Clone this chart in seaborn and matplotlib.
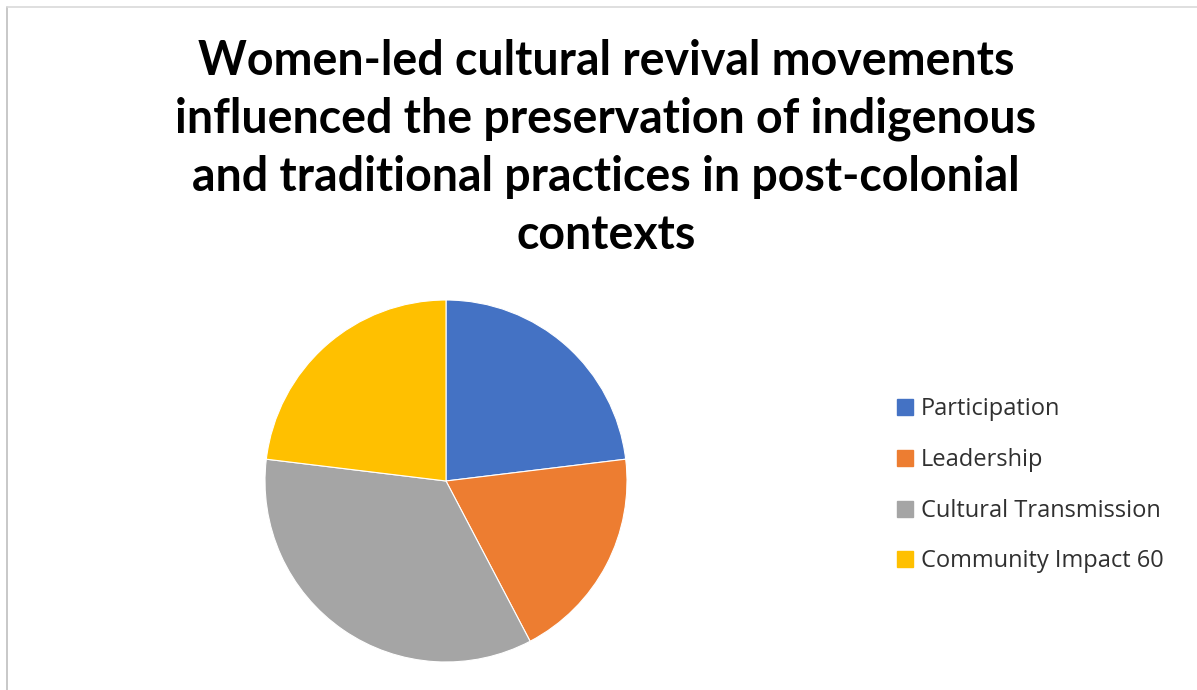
import matplotlib
matplotlib.use("Agg")
import matplotlib.pyplot as plt
import seaborn as sns
from matplotlib.lines import Line2D

categories = ['Participation', 'Leadership', 'Cultural Transmission', 'Community Impact 60']
values = [60, 50, 90, 60]
colors = ['#4472C4', '#ED7D31', '#A5A5A5', '#FFC000']
title = ("Women-led cultural revival movements\n"
         "influenced the preservation of indigenous\n"
         "and traditional practices in post-colonial\n"
         "contexts")

sns.set_theme(style="white")
plt.rcParams['font.family'] = ['Lato', 'DejaVu Sans']

fig = plt.figure(figsize=(11.97, 6.90), dpi=100)
W, H = 1197, 690

# pie centre (446, 481) px, radius 181 px
cx, cy, r = 446, 481, 181
ax = fig.add_axes([(cx - r) / W, (H - cy - r) / H, 2 * r / W, 2 * r / H])
wedges, _ = ax.pie(values, colors=colors, startangle=90, counterclock=False,
                   radius=1, wedgeprops=dict(edgecolor='white', linewidth=0.8))
ax.set_xlim(-1.0, 1.0)
ax.set_ylim(-1.0, 1.0)
ax.axis('off')

fig.text(606 / W, 1 - 39 / H, title, ha='center', va='top', fontsize=33.5,
         fontweight='bold', color='black', linespacing=1.38)

handles = [Line2D([0], [0], marker='s', linestyle='', markersize=11,
                  markerfacecolor=c, markeredgecolor=c) for c in colors]
fig.legend(handles, categories, loc='upper left',
           bbox_to_anchor=(884 / W, 1 - 388 / H), frameon=False,
           prop={'family': ['Open Sans', 'DejaVu Sans'], 'size': 17},
           labelcolor='#303030', handlelength=0.96,
           handletextpad=0.2, labelspacing=1.13, borderaxespad=0)

# thin chart border on the left and top edges
fig.add_artist(Line2D([7 / W, 7 / W], [0, 1 - 7 / H], color='#BFBFBF', lw=1.2,
                      transform=fig.transFigure))
fig.add_artist(Line2D([7 / W, 1], [1 - 7 / H, 1 - 7 / H], color='#D9D9D9', lw=1.2,
                      transform=fig.transFigure))

fig.savefig("out.png", dpi=100, facecolor='white')
